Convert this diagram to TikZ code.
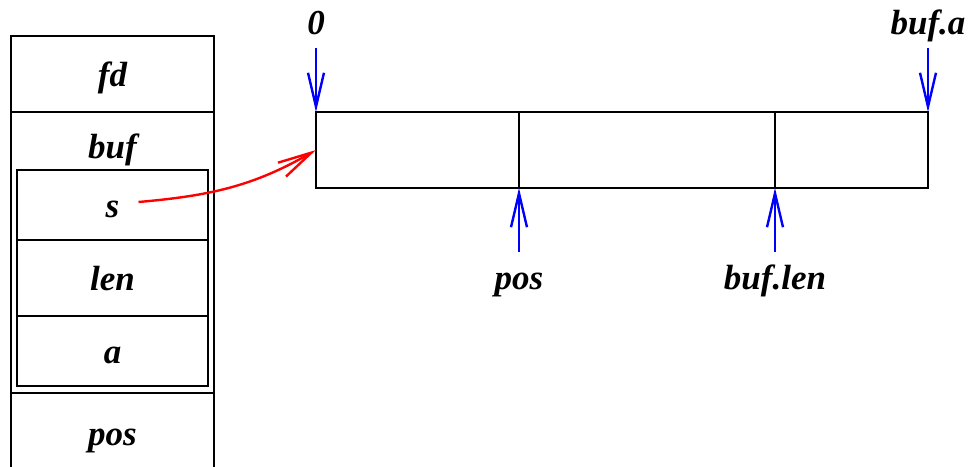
\documentclass[tikz,border=0pt]{standalone}
\usepackage{fontspec}
\setmainfont{Liberation Serif}
\usepackage{xcolor}
\usetikzlibrary{positioning, arrows.meta}
\newcommand{\fieldfont}{\fontsize{17.5}{21}\selectfont\bfseries\itshape}

\begin{document}
\begin{tikzpicture}[
  x=0.5pt, y=0.5pt,
  fieldbox/.style={draw, line width=1.3pt, inner sep=0pt, outer sep=0pt, minimum width=101.5pt, font=\fieldfont, text height=12.2pt, text depth=0pt},
  subbox/.style={fieldbox, minimum width=95.5pt},
  cellbox/.style={draw, line width=1.3pt, inner sep=0pt, outer sep=0pt, minimum height=38pt},
  lbl/.style={font=\fieldfont, text height=12.2pt, text depth=0pt, inner sep=6.5pt},
  ptr/.style={-{Straight Barb[length=17pt, width=8pt]}, line width=1.2pt, blue},
  sptr/.style={-{Straight Barb[length=17pt, width=8pt]}, line width=1.2pt, red}
]
  \useasboundingbox (0,0) rectangle (969,466);

  % the struct on the left
  \node[fieldbox, minimum height=38pt] (fd) at (112.5,392) {fd};
  \node[fieldbox, minimum height=140.5pt, below=0pt of fd] (bufrow) {};
  \node[font=\fieldfont, text height=12.2pt, text depth=0pt, inner sep=0pt] (buftxt) at ([yshift=-17pt]bufrow.north) {buf};
  \node[subbox, minimum height=35pt, below=29pt of bufrow.north] (s) {s};
  \node[subbox, minimum height=38pt, below=0pt of s] (len) {len};
  \node[subbox, minimum height=35pt, below=0pt of len] (a) {a};
  \node[fieldbox, minimum height=40pt, below=0pt of bufrow] (pos) {pos};

  % the buffer
  \node[cellbox, minimum width=101.5pt] (cell1) at (417.5,316) {};
  \node[cellbox, minimum width=128pt, right=0pt of cell1] (cell2) {};
  \node[cellbox, minimum width=76.5pt, right=0pt of cell2] (cell3) {};

  \node[lbl, above=32pt of cell1.north west] (zero) {0};
  \node[lbl, above=32pt of cell3.north east] (bufa) {buf.a};
  \node[lbl, below=32pt of cell1.south east] (bpos) {pos};
  \node[lbl, below=32pt of cell2.south east] (buflen) {buf.len};

  \draw[ptr] (zero) -- (cell1.north west);
  \draw[ptr] (bufa) -- (cell3.north east);
  \draw[ptr] (bpos) -- (cell1.south east);
  \draw[ptr] (buflen) -- (cell2.south east);

  \coordinate (sstart) at ([xshift=13pt, yshift=1.5pt]s.center);
  \draw[sptr] (sstart) to[out=5, in=210] (cell1.west);
\end{tikzpicture}
\end{document}
